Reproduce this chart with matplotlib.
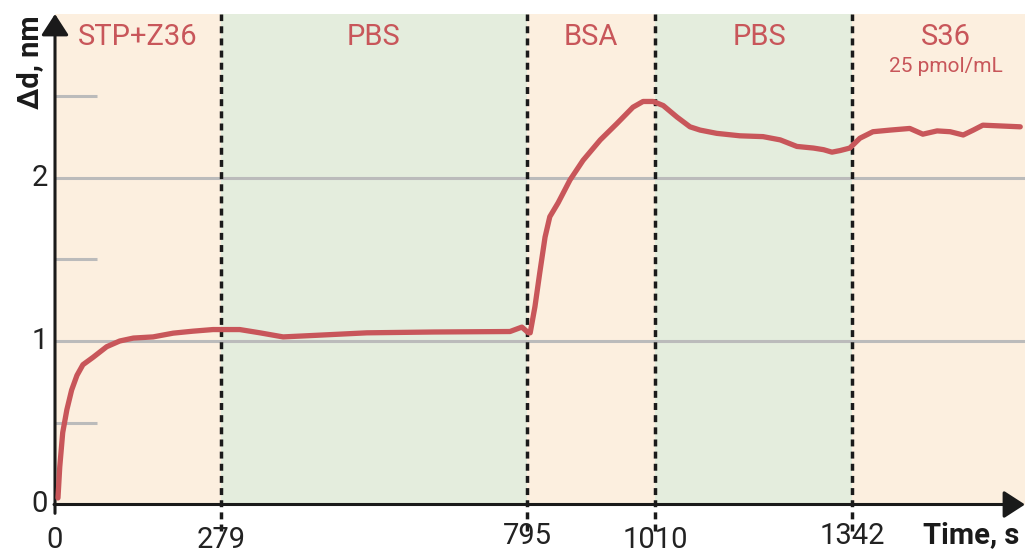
import numpy as np
import matplotlib.pyplot as plt

plt.rcParams["font.family"] = ["Roboto", "DejaVu Sans"]

# phase boundaries (s) and names
bounds = [0, 279, 795, 1010, 1342, 1633]
phases = ["STP+Z36", "PBS", "BSA", "PBS", "S36"]
phase_x = [139.5, 537, 902.5, 1186, 1500]
phase_colors = ["#fcefdf", "#e4eddd", "#fcefdf", "#e4eddd", "#fcefdf"]

# thickness change vs time
t = [5, 8, 13, 20, 28, 37, 47, 64, 87, 109, 132, 165, 199, 232, 266, 311,
     345, 384, 441, 525, 637, 766, 786, 797, 800, 808, 816, 825, 833, 847,
     867, 889, 918, 946, 973, 990, 1007, 1024, 1047, 1069, 1086, 1114,
     1153, 1192, 1221, 1249, 1277, 1294, 1308, 1322, 1338, 1355, 1377,
     1406, 1439, 1461, 1485, 1507, 1529, 1546, 1562, 1625]
d = [0.04, 0.23, 0.44, 0.58, 0.70, 0.79, 0.855, 0.90, 0.965, 1.00, 1.018,
     1.025, 1.048, 1.06, 1.07, 1.07, 1.05, 1.025, 1.035, 1.05, 1.055,
     1.058, 1.085, 1.05, 1.05, 1.21, 1.415, 1.635, 1.76, 1.845, 1.985,
     2.105, 2.23, 2.33, 2.43, 2.465, 2.465, 2.44, 2.37, 2.31, 2.29, 2.27,
     2.255, 2.25, 2.23, 2.19, 2.18, 2.17, 2.155, 2.165, 2.18, 2.24, 2.28,
     2.29, 2.30, 2.265, 2.285, 2.28, 2.26, 2.29, 2.32, 2.31]

xticks = [0, 279, 795, 1010, 1342]
low_row = [True, True, False, True, False]
red = "#c8565a"
ink = "#1a1a1a"

fig = plt.figure(figsize=(10.25, 5.56), dpi=100)
ax = fig.add_axes([55 / 1025, 51.5 / 556, 970 / 1025, 490.5 / 556])
ax.set_xlim(0, 1633)
ax.set_ylim(0, 3)

for i, c in enumerate(phase_colors):
    ax.axvspan(bounds[i], bounds[i + 1], color=c, lw=0, zorder=0)

# full grid lines at integers, short marks at halves
for y in [1, 2]:
    ax.axhline(y, color="#bbbbbb", lw=2.2, zorder=1)
for y in [0.5, 1.5, 2.5]:
    ax.plot([0, 70], [y, y], color="#bbbbbb", lw=2.2, zorder=1,
            solid_capstyle="butt")

for x in bounds[1:-1]:
    ax.plot([x, x], [-0.16, 3], color=ink, lw=2.5,
            linestyle=(0, (2, 1.5)), clip_on=False, zorder=3)

ax.plot(t, d, color=red, lw=3.8, solid_joinstyle="round",
        solid_capstyle="round", zorder=4)

# axes drawn as arrows
for s in ax.spines.values():
    s.set_visible(False)
ax.set_xticks([])
ax.set_yticks([])
arrow = dict(arrowstyle="-|>,head_length=0.65,head_width=0.42",
             mutation_scale=20, lw=2.2, color=ink,
             shrinkA=0, shrinkB=0)
ax.annotate("", xy=(0, 1), xytext=(0, -0.018), xycoords="axes fraction",
            arrowprops=arrow, annotation_clip=False)
ax.annotate("", xy=(1, 0), xytext=(-0.001, 0), xycoords="axes fraction",
            arrowprops=arrow, annotation_clip=False)

# phase names
for name, xc in zip(phases, phase_x):
    ax.text(xc, 2.86, name, color=red, fontsize=21, ha="center",
            va="center")
ax.text(phase_x[-1], 2.68, "25 pmol/mL", color=red, fontsize=15,
        ha="center", va="center")

# tick labels, staggered in two rows
for y in [0, 1, 2]:
    ax.text(-12, y, str(y), fontsize=21, color="#222222", ha="right",
            va="center")
for x, low in zip(xticks, low_row):
    if low:
        ax.text(x, -0.305, str(x), fontsize=21, color="#222222",
                ha="center", va="bottom")
    else:
        ax.text(x, -0.19, str(x), fontsize=21, color="#222222",
                ha="center", va="center")

ax.text(1623, -0.19, "Time, s", fontsize=21, fontweight="bold",
        ha="right", va="center", color=ink)
fig.text(30 / 1025, 1 - 15 / 556, "Δd, nm", fontsize=21, fontweight="bold",
         rotation=90, ha="center", va="top", color=ink)

fig.savefig("out.png", dpi=100)
